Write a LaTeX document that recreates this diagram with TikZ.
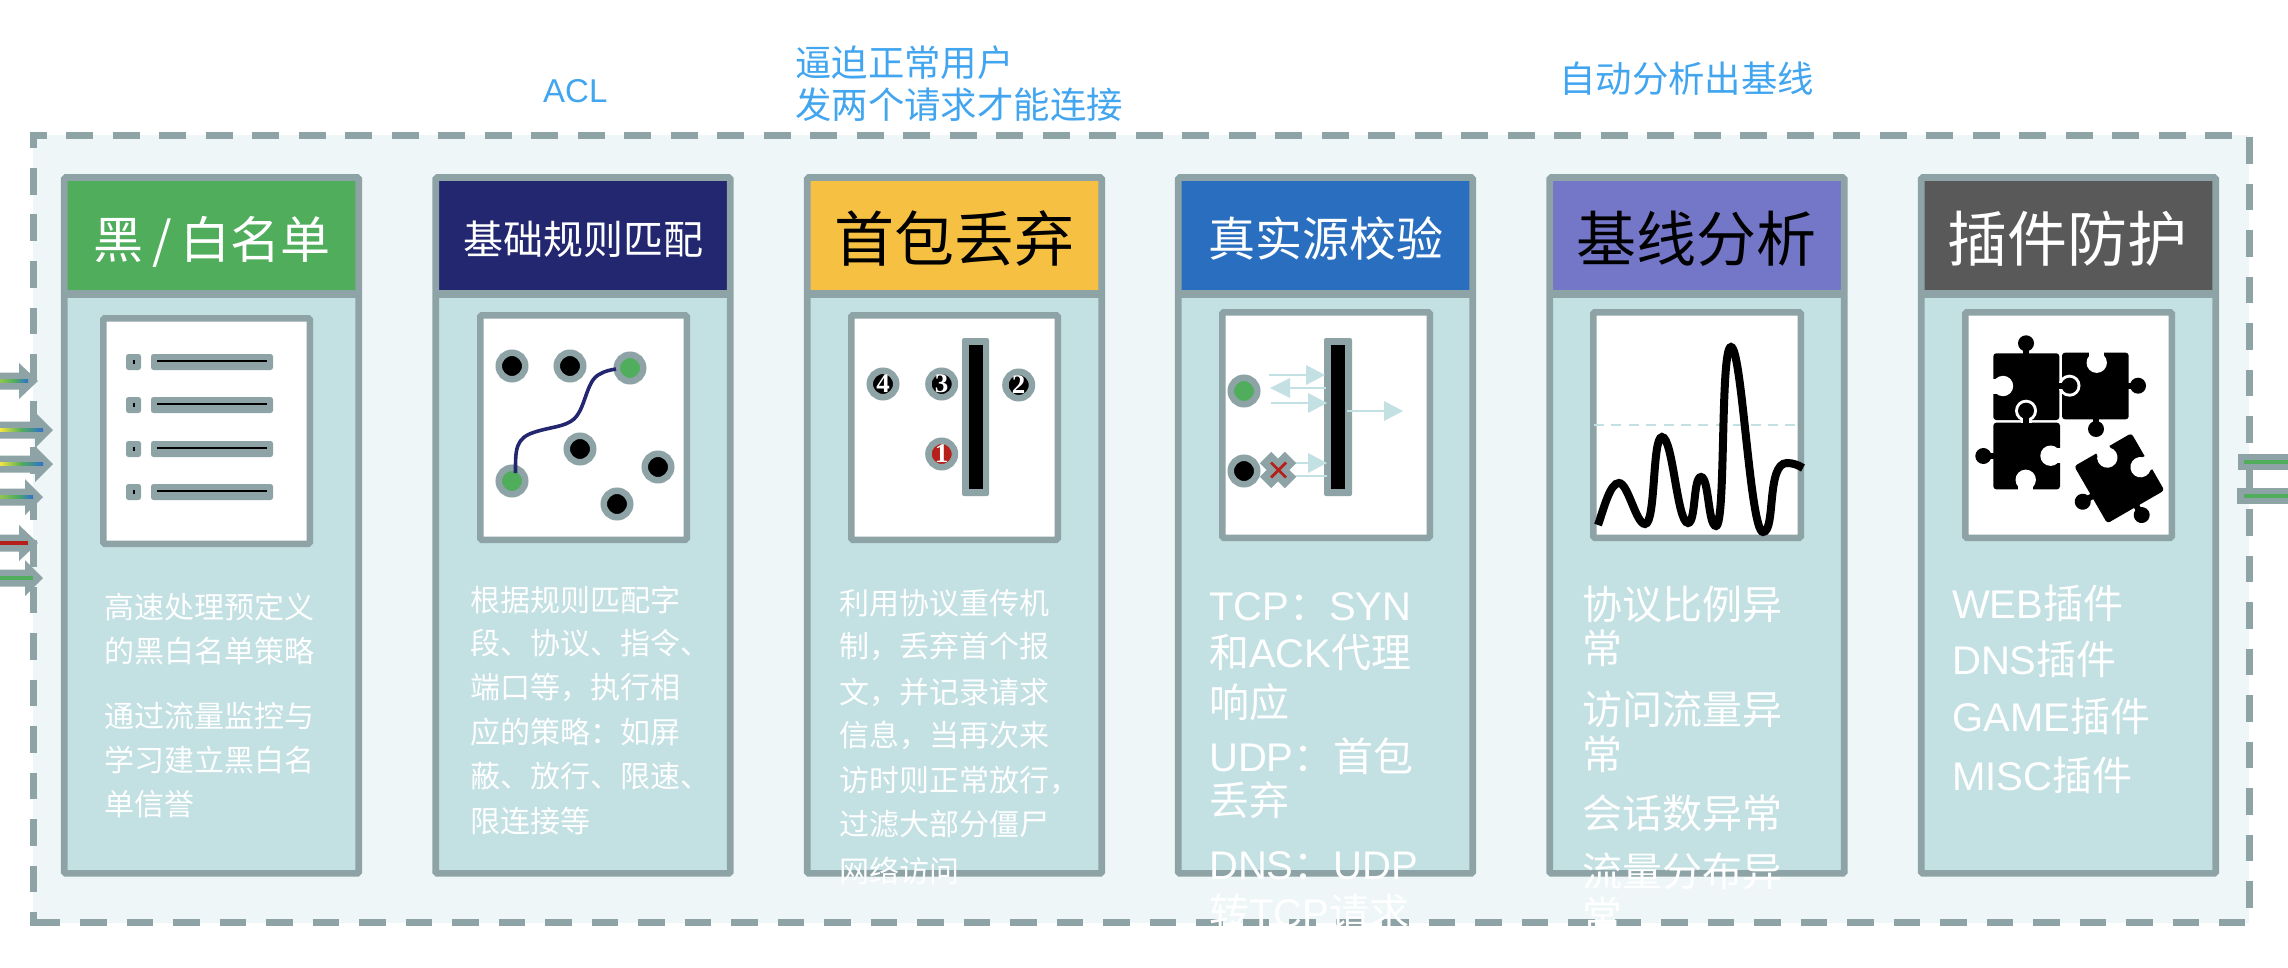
\documentclass[tikz,border=0pt]{standalone}
\usepackage{fontspec}
\setmainfont{Noto Sans CJK SC}
\newfontfamily\lat{Liberation Sans}
\newfontfamily\digitf{Liberation Serif}
\newcommand\fsz[1]{\fontsize{#1}{#1}\selectfont}
\definecolor{edgegray}{HTML}{8EA3A6}
\definecolor{bodyblue}{HTML}{C3E0E3}
\definecolor{panelbg}{HTML}{EEF6F8}
\definecolor{hgreen}{HTML}{50AD5C}
\definecolor{hnavy}{HTML}{23276F}
\definecolor{hyellow}{HTML}{F6C143}
\definecolor{hblue}{HTML}{2A6FBF}
\definecolor{hpurple}{HTML}{7476C8}
\definecolor{hgray}{HTML}{595959}
\definecolor{topblue}{HTML}{42A5F0}
\definecolor{alertred}{HTML}{B5201A}
\definecolor{flowyellow}{HTML}{F5E642}
\definecolor{flowblue}{HTML}{2F6FD0}
\tikzset{
  x=1pt,y=-1pt,
  zerobox/.style={inner sep=0,text height=0pt,text depth=0pt,font=\fsz{#1},yshift={-0.38*#1*1pt}},
  ttl/.style={zerobox=#1,anchor=center},
  txt/.style={zerobox=#1,anchor=west,text=white},
  toplab/.style={zerobox=#1,anchor=west,text=topblue},
  imgbox/.style={draw=edgegray,line width=6.5pt,fill=white,rounded corners=1.5pt},
  dot/.style={circle,draw=edgegray,line width=6.5pt,minimum size=26.5pt,inner sep=0},
  num/.style={dot,fill=black,text=white,font=\digitf\bfseries\fsz{27}},
  bdash/.style={draw=edgegray,line width=6.6pt,dash pattern=on 26.67pt off 19.83pt},
}
\newcommand\card[2]{%
  \fill[bodyblue] (#1+3,177) rectangle (#1+298,873);
  \fill[#2] (#1+6,180) rectangle (#1+295,291);
  \draw[edgegray,line width=6.6pt,rounded corners=1.5pt] (#1+3.25,177.5) rectangle (#1+297.75,873.4);
  \draw[edgegray,line width=8pt] (#1+3,294) -- (#1+298,294);
}
\newcommand\listrow[1]{%
  \fill[edgegray,rounded corners=2.5pt] (126,#1-8) rectangle (141,#1+8);
  \fill[black] (132.5,#1-2) rectangle (134.5,#1+2);
  \fill[edgegray,rounded corners=2.5pt] (151,#1-8) rectangle (273,#1+8);
  \draw[black,line width=2.2pt] (157,#1-1) -- (267,#1-1);
}
\newcommand\inarrow[3]{% y, base, tip
  \fill[edgegray] (0,#1-8.5) -- (#2,#1-8.5) -- (#2,#1-18) -- (#3,#1) -- (#2,#1+18) -- (#2,#1+8.5) -- (0,#1+8.5) -- cycle;
}
\newcommand\lba[4]{% x start, base, tip, y
  \draw[bodyblue,line width=2.6pt] (#1,#4) -- (#2,#4);
  \fill[bodyblue] (#2,#4-10) -- (#3,#4) -- (#2,#4+10) -- cycle;
}
\newcommand\pzk[4]{\draw[black,line width=6pt] (#1,#2) -- (#3,#4); \fill[black] (#3,#4) circle[radius=8];}
\newcommand\pzo[4]{\draw[white,line width=11pt] (#1,#2) -- (#3,#4); \fill[white] (#3,#4) circle[radius=11];}
\newcommand\pzn[4]{\draw[white,line width=15pt] (#1,#2) -- (#3,#4); \fill[white] (#1,#2) circle[radius=10.2];}
\begin{document}
\begin{tikzpicture}
\useasboundingbox (0,0) rectangle (2288,968);
\clip (0,0) rectangle (2288,968);
\fill[white] (0,0) rectangle (2288,968);
% panel
\fill[panelbg] (33,135) rectangle (2249.3,923);
\draw[edgegray,line width=6.6pt] (33.3,148) -- (33.3,135.3) -- (46.7,135.3);
\draw[edgegray,line width=6.6pt] (33.3,912.3) -- (33.3,922.7) -- (60,922.7);
\draw[bdash] (66.4,135.3) -- (2232,135.3);
\draw[bdash] (33.3,168) -- (33.3,893);
\draw[bdash] (2249.3,137.3) -- (2249.3,908);
\draw[bdash] (80,922.7) -- (2245,922.7);
% incoming arrows
\inarrow{381}{19}{38}
\inarrow{430}{35}{53}
\inarrow{464}{35}{53}
\inarrow{497}{25}{43}
\inarrow{543}{19}{38}
\inarrow{578}{25}{43}
\shade[left color=hgreen!60!flowyellow,right color=flowblue,middle color=hgreen] (0,379.2) rectangle (28,382.8);
\shade[left color=flowyellow,right color=flowblue,middle color=hgreen] (0,428.2) rectangle (43,431.8);
\shade[left color=flowyellow,right color=flowblue,middle color=hgreen] (0,462.2) rectangle (43,465.8);
\shade[left color=hgreen!60!flowyellow,right color=flowblue,middle color=hgreen] (0,495.2) rectangle (33,498.8);
\fill[alertred] (0,541.2) rectangle (28,544.8);
\fill[hgreen] (0,576.2) rectangle (33,579.8);
% outgoing lines
\fill[edgegray] (2237.5,454) rectangle (2288,470);
\fill[edgegray] (2237,488) rectangle (2288,504);
\fill[edgegray] (2246,470) rectangle (2252.6,488);
\fill[hgreen] (2244,460.3) rectangle (2288,463.7);
\fill[hgreen] (2243.5,494.3) rectangle (2288,497.7);
% cards
\card{61}{hgreen}
\card{432.5}{hnavy}
\card{804}{hyellow}
\card{1175}{hblue}
\card{1546.5}{hpurple}
\card{1918}{hgray}
\node[ttl=50,text=white] (t1) at (212,240) {黑\hspace{.17em}/\hspace{.17em}白名单};
\node[ttl=40,text=white] (t2) at (583,239) {基础规则匹配};
\node[ttl=60,text=black] (t3) at (954.5,239) {首包丢弃};
\node[ttl=47,text=white] (t4) at (1325.5,239) {真实源校验};
\node[ttl=60,text=black] (t5) at (1696.5,239) {基线分析};
\node[ttl=60,text=white] (t6) at (2067.5,239) {插件防护};
% top labels
\node[toplab=33] (l1) at (543,90) {\lat ACL};
\node[toplab=36.4] (l2) at (795,63) {逼迫正常用户};
\node[toplab=36.4] (l3) at (795,105) {发两个请求才能连接};
\node[toplab=36.4] (l4) at (1559,79) {自动分析出基线};
% image boxes
\draw[imgbox] (103.25,318.25) rectangle (309.75,543.75);
\draw[imgbox] (480.25,315.25) rectangle (686.75,539.75);
\draw[imgbox] (851.25,315.25) rectangle (1057.75,539.75);
\draw[imgbox] (1222.25,312.25) rectangle (1429.75,537.75);
\draw[imgbox] (1593.25,312.25) rectangle (1800.75,537.75);
\draw[imgbox] (1965.25,312.25) rectangle (2171.75,537.75);
% card 1 icon
\listrow{362}\listrow{405}\listrow{449}\listrow{492}
% card 2 icon
\node[dot,fill=black] (n1) at (512,366) {};
\node[dot,fill=black] (n2) at (570,366) {};
\node[dot,fill=hgreen] (n3) at (630,368) {};
\node[dot,fill=hgreen] (n4) at (512,481) {};
\node[dot,fill=black] (n5) at (580,449) {};
\node[dot,fill=black] (n6) at (658,467) {};
\node[dot,fill=black] (n7) at (617,504) {};
\draw[hnavy,line width=3.6pt] (515.5,473) .. controls (515.5,450) and (515,438) .. (535,432)
  .. controls (550,427) and (565,427) .. (574,419)
  .. controls (586,408) and (586,380) .. (600,374)
  .. controls (605,371) and (610,370) .. (616,369);
% card 3 icon
\fill[edgegray,rounded corners=2pt] (962,338) rectangle (989,496);
\fill[black] (968.5,345) rectangle (983,489);
\node[num] (d4) at (883,384) {4};
\node[num] (d3) at (941.7,384) {3};
\node[num] (d2) at (1018.7,385) {2};
\node[num,fill=alertred] (d1) at (941.7,454) {1};
% card 4 icon
\fill[edgegray,rounded corners=2pt] (1324,338) rectangle (1352,496);
\fill[black] (1331,345) rectangle (1345,489);
\node[dot,fill=hgreen] (v1) at (1244,391) {};
\node[dot,fill=black] (v2) at (1244,471) {};
\lba{1269}{1306}{1325}{375}
\lba{1326}{1290}{1270}{388}
\lba{1271}{1308}{1327}{403}
\lba{1347}{1384}{1403}{411}
\lba{1285}{1308}{1327}{463}
\draw[bodyblue,line width=2.6pt] (1285,476) -- (1327,476);
\draw[edgegray,line width=16pt] (1265.5,457.5) -- (1290.5,482.5) (1265.5,482.5) -- (1290.5,457.5);
\draw[alertred,line width=2.8pt] (1271,462.5) -- (1286,477.5) (1271,477.5) -- (1286,462.5);
% card 5 icon
\draw[bodyblue,line width=2.4pt,dash pattern=on 10pt off 7.4pt] (1594,425) -- (1800,425);
\draw[black,line width=8pt] (1598,525)
  .. controls (1604,508) and (1610,483) .. (1619,483)
  .. controls (1628,483) and (1636,524) .. (1645,524)
  .. controls (1656,524) and (1652,437) .. (1662,437)
  .. controls (1673,437) and (1677,523) .. (1688,523)
  .. controls (1696,523) and (1693,477) .. (1701,477)
  .. controls (1709,477) and (1708,526) .. (1716,526)
  .. controls (1726,526) and (1720,347) .. (1731,347)
  .. controls (1742,347) and (1750,532) .. (1763,532)
  .. controls (1776,532) and (1766,463) .. (1787,463)
  .. controls (1793,463) and (1798,465) .. (1803,468);
% card 6 icon: puzzle
\fill[black,rounded corners=3pt] (1993.3,353.3) rectangle (2059.3,420);
\pzk{2026}{354}{2026}{343.3}
\pzn{2003}{386}{1990}{386}
\fill[black,rounded corners=3pt] (2062,352.7) rectangle (2128.7,419.3);
\pzn{2096.7}{362.7}{2096.7}{350}
\pzk{2128}{385.7}{2138}{385.7}
\pzk{2096}{419}{2096}{429}
\pzo{2060}{385.7}{2069.5}{385.7}
\pzk{2055}{385.7}{2069.5}{385.7}
\fill[black] (2048,375) rectangle (2059.3,396);
\fill[black,rounded corners=3pt] (1993.3,422.7) rectangle (2060,489.3);
\pzo{2026}{423}{2026}{410.7}
\pzk{2026}{428}{2026}{410.7}
\pzk{1994}{456}{1983.3}{456}
\pzn{2050.5}{455.7}{2063}{455.7}
\pzn{2025.7}{479.8}{2025.7}{492}
\begin{scope}[shift={(2119.3,478.3)},rotate=30]
  \fill[black,rounded corners=3pt] (-33,-33) rectangle (33,33);
  \pzk{-32}{2}{-43.4}{2}
  \pzk{1}{32}{1}{43}
  \pzn{0}{-24}{0}{-36}
  \pzn{24}{1}{36}{1}
\end{scope}
% body text
\node[txt=30] (a1) at (104,607) {高速处理预定义};
\node[txt=30] (a2) at (104,651) {的黑白名单策略};
\node[txt=30] (a3) at (104,716) {通过流量监控与};
\node[txt=30] (a4) at (104,760) {学习建立黑白名};
\node[txt=30] (a5) at (104,804) {单信誉};
\node[txt=30] (b1) at (470,600) {根据规则匹配字};
\node[txt=30] (b2) at (470,643.5) {段、协议、指令、};
\node[txt=30] (b3) at (470,687) {端口等，执行相};
\node[txt=30] (b4) at (470,732) {应的策略：如屏};
\node[txt=30] (b5) at (470,776) {蔽、放行、限速、};
\node[txt=30] (b6) at (470,821) {限连接等};
\node[txt=30] (c1) at (839,602.6) {利用协议重传机};
\node[txt=30] (c2) at (839,646) {制，丢弃首个报};
\node[txt=30] (c3) at (839,691.6) {文，并记录请求};
\node[txt=30] (c4) at (839,735) {信息，当再次来};
\node[txt=30] (c5) at (839,780) {访时则正常放行，};
\node[txt=30] (c6) at (839,824) {过滤大部分僵尸};
\node[txt=30] (c7) at (839,871) {网络访问};
\node[txt=40] (e1) at (1209,605) {{\lat TCP}：{\lat SYN}};
\node[txt=40] (e2) at (1209,652) {和{\lat ACK}代理};
\node[txt=40] (e3) at (1209,702) {响应};
\node[txt=40] (e4) at (1209,756) {{\lat UDP}：首包};
\node[txt=40] (e5) at (1209,800) {丢弃};
\node[txt=40] (e6) at (1209,864) {{\lat DNS}：{\lat UDP}};
\node[txt=40] (e7) at (1209,912) {转{\lat TCP}请求};
\node[txt=40] (f1) at (1582,604) {协议比例异};
\node[txt=40] (f2) at (1582,648) {常};
\node[txt=40] (f3) at (1582,709) {访问流量异};
\node[txt=40] (f4) at (1582,754) {常};
\node[txt=40] (f5) at (1582,813) {会话数异常};
\node[txt=40] (f6) at (1582,871) {流量分布异};
\node[txt=40] (f7) at (1582,915) {常};
\node[txt=40] (g1) at (1952,603) {{\lat WEB}插件};
\node[txt=40] (g2) at (1952,659.5) {{\lat DNS}插件};
\node[txt=40] (g3) at (1952,716) {{\lat GAME}插件};
\node[txt=40] (g4) at (1952,775) {{\lat MISC}插件};
\end{tikzpicture}
\end{document}
